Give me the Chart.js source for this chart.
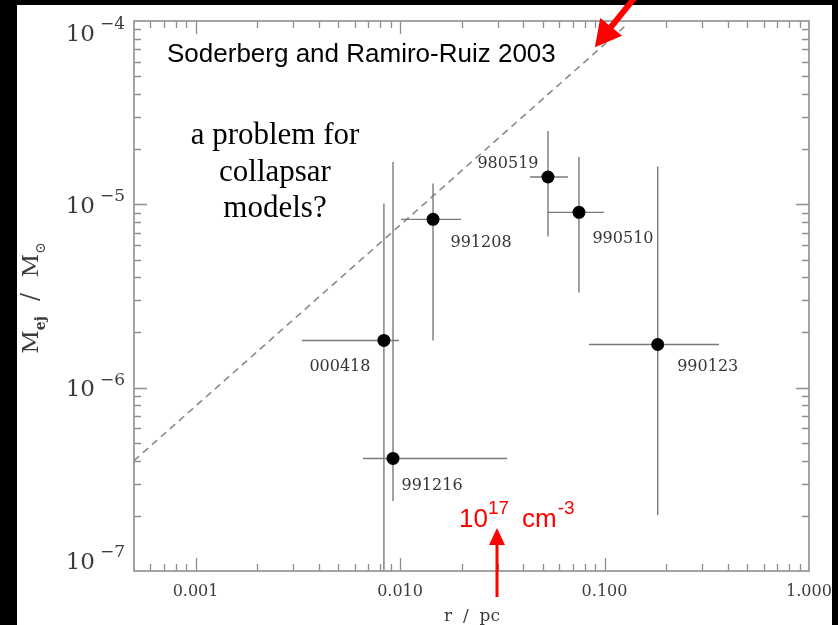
<!DOCTYPE html>
<html><head><meta charset="utf-8">
<script src="https://cdn.jsdelivr.net/npm/chart.js@4.4.1/dist/chart.umd.min.js"></script>
<style>html,body{margin:0;padding:0;background:#000;overflow:hidden}canvas{display:block}</style>
</head><body>
<canvas id="c" width="838" height="625"></canvas>
<script>
// ---- data ----
const grbNames   = ['000418','991216','991208','980519','990510','990123'];
const radiusPc   = [0.00834, 0.00924, 0.0145, 0.0529, 0.0750, 0.182];
const radiusLo   = [0.00331, 0.00659, 0.0101, 0.0432, 0.0529, 0.0839];
const radiusHi   = [0.00989, 0.0334, 0.0199, 0.0662, 0.0993, 0.363];
const massEj     = [1.81e-6, 4.11e-7, 8.28e-6, 1.41e-5, 9.04e-6, 1.72e-6];
const massLo     = [5.0e-8, 2.41e-7, 1.81e-6, 6.68e-6, 3.30e-6, 2.02e-7];
const massHi     = [1.01e-5, 1.70e-5, 1.30e-5, 2.51e-5, 1.81e-5, 1.61e-5];
const modelR     = [0.0005, 0.125];
const modelM     = [4.0e-7, 9.3e-5];
const xTickValues = [0.001, 0.01, 0.1, 1];
const xTickLabels = ['0.001', '0.010', '0.100', '1.000'];
const yTickValues = [1e-7, 1e-6, 1e-5, 1e-4];
const yTickExponents = ['\u22127', '\u22126', '\u22125', '\u22124'];
const densityMarkR = 0.0298;      // r where the 10^17 cm^-3 arrow points
const arrowTipR = 0.0897, arrowTipM = 7.2e-5;

// ---- layout / style (not data) ----
const labelOffsets = [[-44,26],[39,27],[48,23],[-40,-13],[44,26],[50,22]];
const AX = '#8e8e8e';

const pts = grbNames.map((n,i)=>({x:radiusPc[i], y:massEj[i]}));
const xErr = [], yErr = [];
grbNames.forEach((n,i)=>{
  xErr.push({x:radiusLo[i], y:massEj[i]}, {x:radiusHi[i], y:massEj[i]}, {x:radiusHi[i], y:null});
  yErr.push({x:radiusPc[i], y:massLo[i]}, {x:radiusPc[i], y:massHi[i]}, {x:radiusPc[i], y:null});
});
const model = modelR.map((r,i)=>({x:r, y:modelM[i]}));

function arrow(ctx, x0, y0, x1, y1, shaftW, headL, headW, color){
  const dx=x1-x0, dy=y1-y0, len=Math.hypot(dx,dy), ux=dx/len, uy=dy/len;
  const bx=x1-ux*headL, by=y1-uy*headL, nx=-uy, ny=ux;
  ctx.save();
  ctx.strokeStyle=color; ctx.fillStyle=color; ctx.lineWidth=shaftW; ctx.lineCap='butt';
  ctx.beginPath(); ctx.moveTo(x0,y0); ctx.lineTo(bx+ux*1,by+uy*1); ctx.stroke();
  ctx.beginPath(); ctx.moveTo(x1,y1); ctx.lineTo(bx+nx*headW,by+ny*headW); ctx.lineTo(bx-nx*headW,by-ny*headW); ctx.closePath(); ctx.fill();
  ctx.restore();
}

const decor = {
  id:'decor',
  beforeDraw(chart){
    const c=chart.ctx; c.save();
    c.fillStyle='#000'; c.fillRect(0,0,838,625);
    c.fillStyle='#fff'; c.fillRect(17,5,815,620);
    c.restore();
  },
  afterDatasetsDraw(chart){
    const c=chart.ctx, a=chart.chartArea, xs=chart.scales.x, ys=chart.scales.y;
    c.save();
    c.strokeStyle=AX; c.lineWidth=1.6;
    c.strokeRect(a.left, a.top, a.right-a.left, a.bottom-a.top);
    c.lineWidth=1.3;
    c.beginPath();
    for(let d=-4; d<=0; d++){
      for(let k=1;k<=9;k++){
        const v=k*Math.pow(10,d);
        if(v<xs.min*1.001 || v>xs.max*0.999) continue;
        const p=Math.round(xs.getPixelForValue(v))+0.5, L=(k===1)?13:7;
        c.moveTo(p,a.bottom); c.lineTo(p,a.bottom-L);
        c.moveTo(p,a.top); c.lineTo(p,a.top+L);
      }
    }
    for(let d=-7; d<=-4; d++){
      for(let k=1;k<=9;k++){
        const v=k*Math.pow(10,d);
        if(v<ys.min*1.001 || v>ys.max*0.999) continue;
        const p=Math.round(ys.getPixelForValue(v))+0.5, L=(k===1)?13:7;
        c.moveTo(a.left,p); c.lineTo(a.left+L,p);
        c.moveTo(a.right,p); c.lineTo(a.right-L,p);
      }
    }
    c.stroke();
    c.restore();
  },
  afterDraw(chart){
    const c=chart.ctx, a=chart.chartArea, xs=chart.scales.x, ys=chart.scales.y;
    c.save();
    // y tick labels 10^n
    yTickValues.forEach((v,i)=>{
      let cy=ys.getPixelForValue(v);
      cy=Math.max(a.top+11, Math.min(a.bottom-11, cy));
      const rx=a.left-9;
      c.fillStyle='#3c3c3c';
      c.textAlign='right'; c.textBaseline='alphabetic';
      c.font='17px "DejaVu Serif"';
      const ew=c.measureText(yTickExponents[i]).width;
      c.fillText(yTickExponents[i], rx, cy-3);
      c.font='23px "DejaVu Serif"';
      c.fillText('10', rx-ew-5, cy+8.5);
    });
    // y axis title  M_ej / M_sun
    c.save();
    c.translate(0, 298); c.rotate(-Math.PI/2);
    const parts=[
      {t:'M', f:'23px "DejaVu Serif"', b:38},
      {t:'ej', f:'bold 14px "DejaVu Serif"', b:45},
      {t:'  /  ', f:'24px "DejaVu Serif"', b:38},
      {t:'M', f:'23px "DejaVu Serif"', b:38},
      {t:'\u2299', f:'14px "DejaVu Serif"', b:45}
    ];
    let tot=0; parts.forEach(p=>{c.font=p.f; p.w=c.measureText(p.t).width; tot+=p.w;});
    let u=-tot/2; c.fillStyle='#3c3c3c'; c.textAlign='left'; c.textBaseline='alphabetic';
    parts.forEach(p=>{c.font=p.f; c.fillText(p.t,u,p.b); u+=p.w;});
    c.restore();
    // x axis title
    c.fillStyle='#3c3c3c'; c.font='17px "DejaVu Serif"'; c.textAlign='center'; c.textBaseline='alphabetic';
    c.fillText('r  /  pc', 472, 621);
    // point labels
    c.font='16px "DejaVu Serif"'; c.fillStyle='#363636'; c.textAlign='center'; c.textBaseline='middle';
    grbNames.forEach((n,i)=>{
      const px=xs.getPixelForValue(radiusPc[i]), py=ys.getPixelForValue(massEj[i]);
      c.fillText(n, px+labelOffsets[i][0], py+labelOffsets[i][1]);
    });
    // annotations
    c.fillStyle='#000'; c.textAlign='left'; c.textBaseline='alphabetic';
    c.font='26px "Liberation Sans", Arial, sans-serif';
    c.fillText('Soderberg and Ramiro-Ruiz 2003', 167, 62);
    c.textAlign='center'; c.font='31px "Liberation Serif", "Times New Roman", serif';
    c.fillText('a problem for', 275, 144);
    c.fillText('collapsar', 275, 181);
    c.fillText('models?', 275, 217);
    // red density label
    const mx=xs.getPixelForValue(densityMarkR);
    c.fillStyle='#ff0000'; c.textAlign='left';
    let x0=mx-38;
    c.font='26px "Liberation Sans", Arial, sans-serif'; c.fillText('10',x0,527); x0+=c.measureText('10').width;
    c.font='19px "Liberation Sans", Arial, sans-serif'; c.fillText('17',x0,514); x0+=c.measureText('17').width+13;
    c.font='26px "Liberation Sans", Arial, sans-serif'; c.fillText('cm',x0,527); x0+=c.measureText('cm').width;
    c.font='19px "Liberation Sans", Arial, sans-serif'; c.fillText('-3',x0+1,514);
    // right frame strip
    c.fillStyle='#000'; c.fillRect(832,0,6,625);
    // arrows
    arrow(c, mx, 597, mx, 528, 3, 17, 8, '#ff0000');
    const tx=xs.getPixelForValue(arrowTipR), ty=ys.getPixelForValue(arrowTipM);
    arrow(c, tx+45, ty-56, tx, ty, 6, 26, 14, '#ff0000');
    c.restore();
  }
};

new Chart(document.getElementById('c'), {
  type:'scatter',
  data:{ datasets:[
    {label:'GRB', data:pts, pointRadius:6.5, pointHoverRadius:6.5, pointBackgroundColor:'#000', pointBorderColor:'#000', pointBorderWidth:0, showLine:false},
    {label:'xerr', data:xErr, showLine:true, spanGaps:false, borderColor:'#7a7a7a', borderWidth:1.4, pointRadius:0},
    {label:'yerr', data:yErr, showLine:true, spanGaps:false, borderColor:'#7a7a7a', borderWidth:1.4, pointRadius:0},
    {label:'model', data:model, showLine:true, borderColor:'#8a8a8a', borderWidth:1.6, borderDash:[7,5], pointRadius:0}
  ]},
  options:{
    responsive:false, animation:false, devicePixelRatio:1,
    layout:{padding:{left:17, right:29, top:21, bottom:0}},
    plugins:{legend:{display:false}, tooltip:{enabled:false}},
    scales:{
      x:{type:'logarithmic', min:0.0005, max:1, bounds:'data',
         grid:{display:false, drawTicks:false}, border:{display:false},
         afterBuildTicks:s=>{s.ticks=xTickValues.map(v=>({value:v, major:true}));},
         afterFit:s=>{s.height=54; s.paddingLeft=0; s.paddingRight=0; s.paddingTop=0; s.paddingBottom=0;},
         ticks:{autoSkip:false, maxRotation:0, padding:11, color:'#3c3c3c', font:{family:'DejaVu Serif', size:16},
           callback:(v)=>{const i=xTickValues.indexOf(v); return i>=0?xTickLabels[i]:'';}}},
      y:{type:'logarithmic', min:1e-7, max:1e-4, bounds:'data',
         grid:{display:false, drawTicks:false}, border:{display:false},
         afterFit:s=>{s.width=117; s.paddingTop=0; s.paddingBottom=0;},
         ticks:{display:false}}
    }
  },
  plugins:[decor]
});
</script>
</body></html>
